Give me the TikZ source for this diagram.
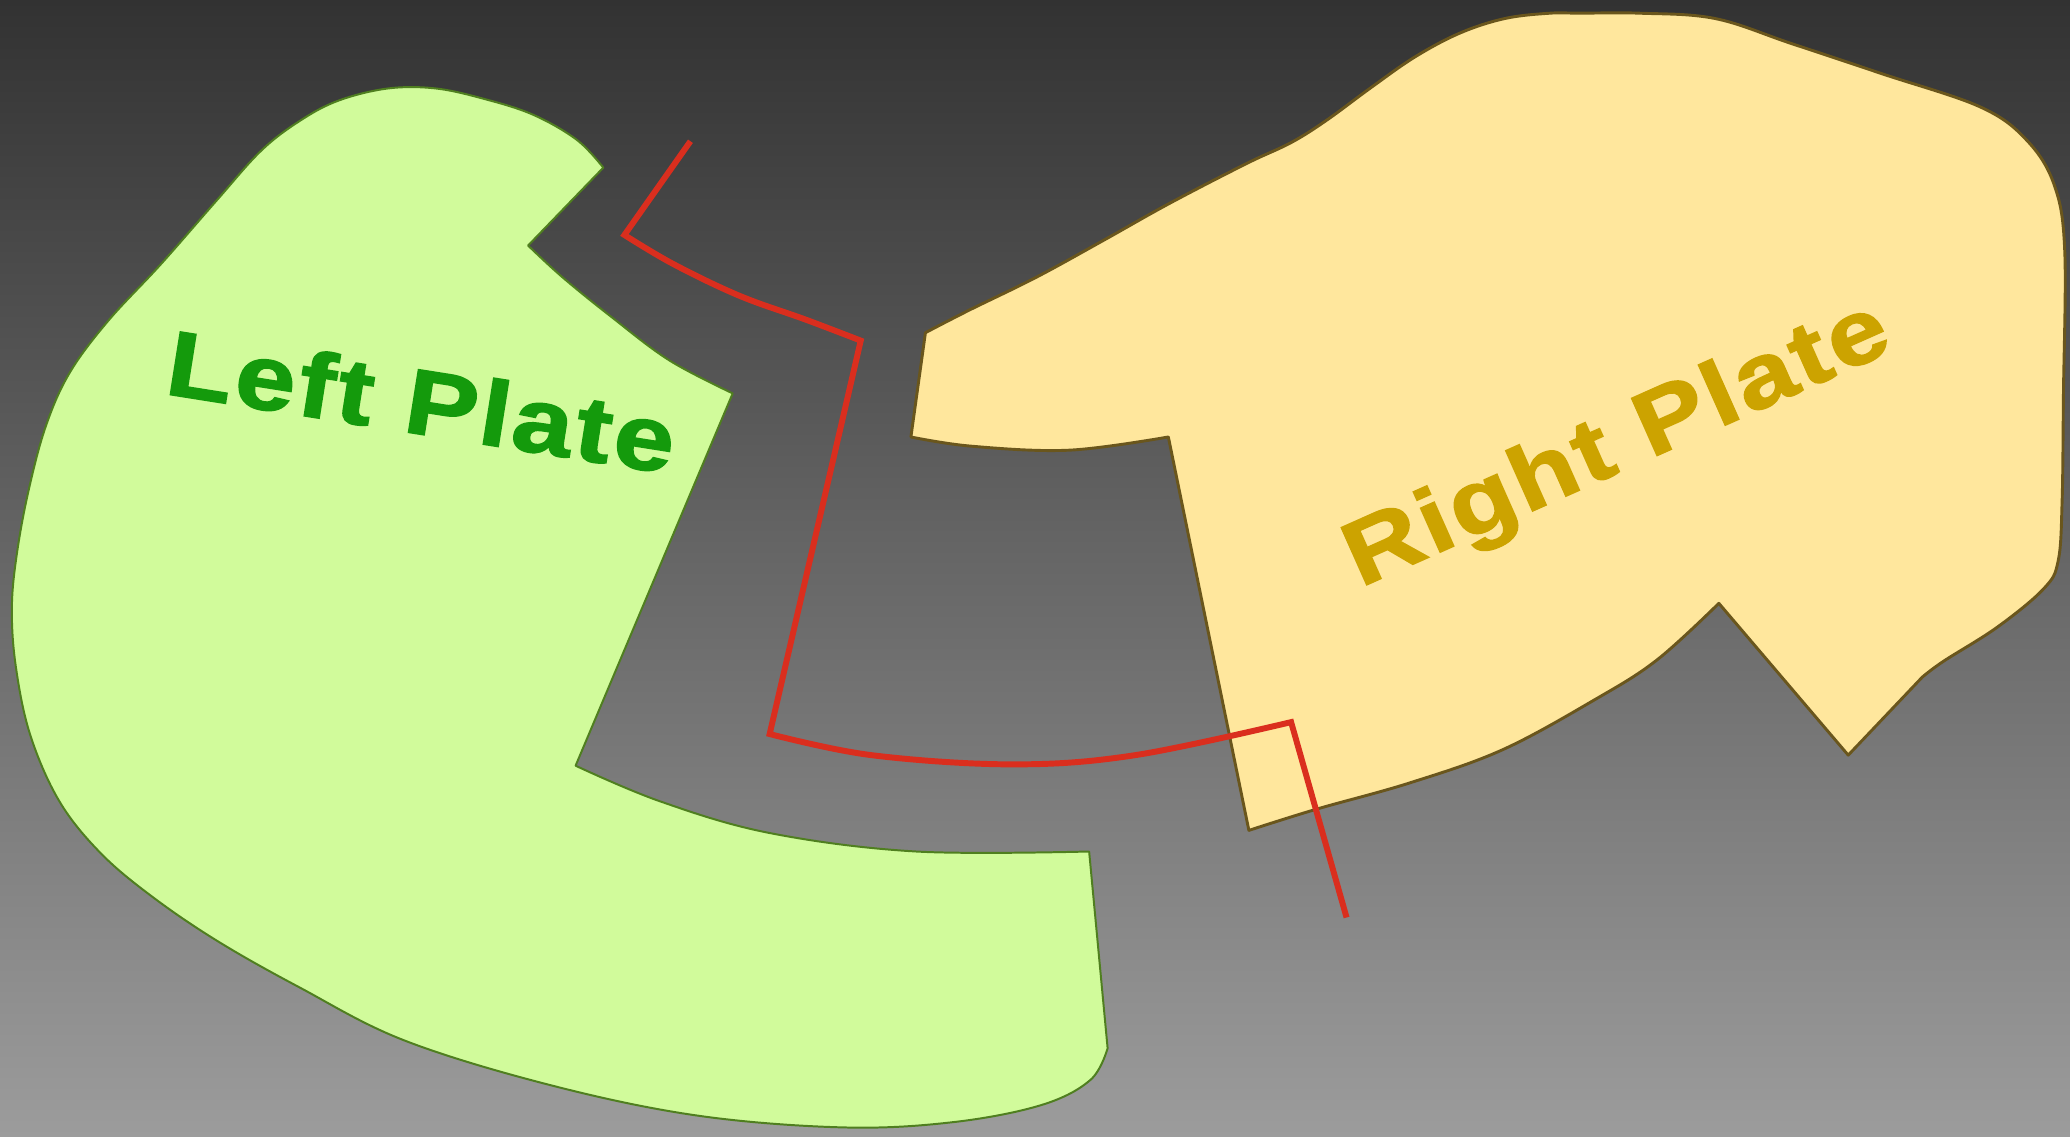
\documentclass[tikz,border=0pt]{standalone}
\usepackage{fontspec}
\setmainfont{Liberation Sans}
\definecolor{bgtop}{HTML}{323232}
\definecolor{bgbot}{HTML}{9C9C9C}
\definecolor{leftfill}{HTML}{D1FB9B}
\definecolor{leftline}{HTML}{4F7F1F}
\definecolor{lefttxt}{HTML}{149A0C}
\definecolor{rightfill}{HTML}{FFE79D}
\definecolor{rightline}{HTML}{6A561C}
\definecolor{righttxt}{HTML}{CCA300}
\definecolor{cutred}{HTML}{DA2E1E}
\tikzset{
  leftplate/.style={fill=leftfill, draw=leftline, line width=1.5pt, line join=round},
  rightplate/.style={fill=rightfill, draw=rightline, line width=2.2pt, line join=round},
  cutline/.style={draw=cutred, line width=4.5pt, line join=miter},
  platelabel/.style={inner sep=0pt, anchor=base, font=\bfseries},
  curve/.style={smooth, tension=0.6},
}
\begin{document}
\begin{tikzpicture}[x=1pt, y=-1pt]
\useasboundingbox (0,0) rectangle (1568,861);
\shade[top color=bgtop, bottom color=bgbot] (0,0) rectangle (1568,861);
% left plate
\path[leftplate] (457,127) -- (400,186)
  -- plot[curve] coordinates {(400,186) (426,210) (463,240) (507,273) (555,298)}
  -- (436,580)
  -- plot[curve] coordinates {(436,580) (500,607) (583,631) (694,645) (825,645)}
  -- (839,794)
  -- plot[curve] coordinates {(839,794) (826,818) (789,837) (722,850) (639,854) (528,845) (417,822) (306,788) (227,748) (165,713) (115,679) (76,646) (45,607) (23,557) (12,505) (9,460) (13,418) (22,370) (35,322) (53,282) (82,243) (122,200) (164,152) (198,114) (228,91) (257,76) (294,67) (330,67) (367,75) (404,87) (437,106) (457,127)}
  -- cycle;
% right plate
\path[rightplate] (701,252) -- (690,331)
  -- plot[curve] coordinates {(690,331) (736,338) (810,341) (885,331)}
  -- (946,629)
  -- plot[curve] coordinates {(946,629) (997,613) (1068,593) (1138,568) (1208,530) (1255,500) (1302,457)}
  -- (1400,572) -- (1456,513)
  -- plot[curve] coordinates {(1456,513) (1472,501) (1513,475) (1548,446) (1559,425) (1562,380) (1563,300) (1564,190) (1556,140) (1535,106) (1500,81) (1426,56) (1357,33) (1299,14) (1242,10) (1197,10) (1174,10) (1140,14) (1106,25) (1072,43) (1039,66) (1005,91) (978,108) (944,124) (886,154) (836,182) (785,210) (734,235) (701,252)}
  -- cycle;
% labels
\node[platelabel, text=lefttxt, rotate=-9, xscale=1.17] (lefttext) at (315.5,328.5)
  {\fontsize{70}{70}\selectfont\addfontfeatures{FakeBold=1.6, LetterSpace=3}Left Plate};
\node[platelabel, text=righttxt, rotate=24, xscale=1.17] (righttext) at (1233,355)
  {\fontsize{69}{69}\selectfont\addfontfeatures{FakeBold=1.6, LetterSpace=3}Right Plate};
% red cut line
\path[cutline] (523,107) -- (473,178)
  -- plot[curve] coordinates {(473,178) (510,200) (560,224) (610,242) (652,258)}
  -- (583,556)
  -- plot[curve] coordinates {(583,556) (660,572) (767,579) (860,572) (978,547)}
  -- (1020,695);
\end{tikzpicture}
\end{document}
